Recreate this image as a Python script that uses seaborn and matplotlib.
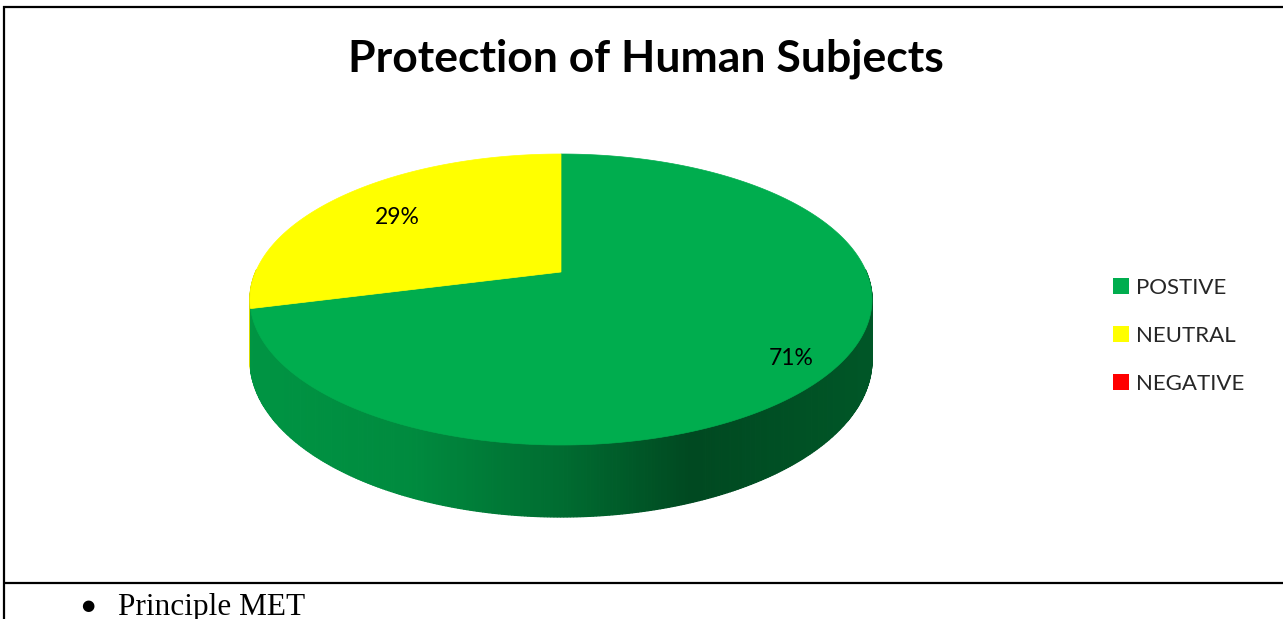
import numpy as np
import matplotlib
matplotlib.use("Agg")
import matplotlib.pyplot as plt
from matplotlib.lines import Line2D
from matplotlib.patches import Polygon
import seaborn as sns

# ---- data ---------------------------------------------------------------
categories = ["POSTIVE", "NEUTRAL", "NEGATIVE"]
shares = [71, 29, 0]                      # percent of responses
slice_colors = ["#00ad4e", "#ffff00", "#ff0000"]
label_radius = [0.87, 0.72, 0.7]          # where each % label sits on the top face
title = "Protection of Human Subjects"
note = "Principle MET"

# ---- style ---------------------------------------------------------------
sns.set_theme(style="white")
plt.rcParams["font.family"] = ["Lato", "DejaVu Sans"]
palette = sns.color_palette(slice_colors)

W, H = 1283, 619
fig = plt.figure(figsize=(W / 100, H / 100), dpi=100)
ax = fig.add_axes([0, 0, 1, 1])
ax.set_xlim(0, W)
ax.set_ylim(H, 0)
ax.axis("off")

# ---- 3-D pie geometry (tilted disc seen in perspective) ------------------
CX, CY = 561, 272
RX, RY = 305.4, 140.3
PERSP = 0.189
DEPTH = 58.4


def project(theta, r=1.0, drop=0.0):
    u = r * np.cos(theta)
    v = r * np.sin(theta)
    f = 1.0 / (1.0 + PERSP * v)
    return CX + RX * u * f, CY - RY * v * f + drop * DEPTH * f


# side-wall lighting as a function of screen x
shade_x = [250, 415, 565, 690, 870]
shade_k = [0.86, 0.80, 0.62, 0.42, 0.50]

# slices run clockwise from 12 o'clock
bounds = []
start = np.pi / 2
for s in shares:
    end = start - np.radians(s * 3.6)
    bounds.append((start, end))
    start = end

# side walls (front half only), far quads first
quads = []
for (a0, a1), col, s in zip(bounds, palette, shares):
    if s <= 0:
        continue
    n = max(int(abs(a0 - a1) / np.radians(0.5)), 2)
    th = np.linspace(a0, a1, n + 1)
    for t0, t1 in zip(th[:-1], th[1:]):
        tm = 0.5 * (t0 + t1)
        if np.sin(tm) > 0.02:
            continue
        x0, y0 = project(t0)
        x1, y1 = project(t1)
        x2, y2 = project(t1, drop=1)
        x3, y3 = project(t0, drop=1)
        xm = 0.5 * (x0 + x1)
        k = np.interp(xm, shade_x, shade_k)
        c = tuple(np.clip(np.array(col) * k, 0, 1))
        quads.append((np.sin(tm), [(x0, y0), (x1, y1), (x2, y2), (x3, y3)], c))

quads.sort(key=lambda q: -q[0])
for _, pts, c in quads:
    ax.add_patch(Polygon(pts, closed=True, facecolor=c, edgecolor=c, lw=0.9))

# top face
for (a0, a1), col, s in zip(bounds, palette, shares):
    if s <= 0:
        continue
    th = np.linspace(a0, a1, 300)
    xs, ys = project(th)
    pts = [(CX, CY)] + list(zip(xs, ys))
    ax.add_patch(Polygon(pts, closed=True, facecolor=col, edgecolor=col, lw=0.5))

# value labels
for (a0, a1), s, r in zip(bounds, shares, label_radius):
    if s <= 0:
        continue
    lx, ly = project(0.5 * (a0 + a1), r=r)
    ax.text(lx - 3, ly + 3, f"{s}%", ha="center", va="center", fontsize=16.5,
            color="black")

# ---- title and legend -------------------------------------------------------
ax.text(646, 59, title, ha="center", va="center", fontsize=32,
        fontweight="bold", color="black")

handles = [Line2D([], [], marker="s", linestyle="none", markersize=11.5,
                  markerfacecolor=c, markeredgewidth=0) for c in palette]
ax.legend(handles, categories, loc="center left", bbox_to_anchor=(1112, 336),
          bbox_transform=ax.transData, frameon=False, fontsize=16,
          handlelength=0.8, handletextpad=0.3, labelspacing=1.25,
          borderpad=0, borderaxespad=0)

# ---- surrounding table rules and the note below --------------------------
rule = dict(color="black", lw=1.6, solid_capstyle="butt")
ax.plot([4, 4], [6, H], **rule)
ax.plot([3, W], [6.5, 6.5], **rule)
ax.plot([3, W], [583, 583], **rule)

serif = ["Liberation Serif", "DejaVu Serif"]
ax.text(88, 606, "\u25CF", ha="center", va="center", fontsize=11,
        family=["DejaVu Sans"], color="black")
ax.text(118, 615, note, ha="left", va="baseline", fontsize=22.5,
        family=serif, color="black")

fig.savefig("out.png", dpi=100)
